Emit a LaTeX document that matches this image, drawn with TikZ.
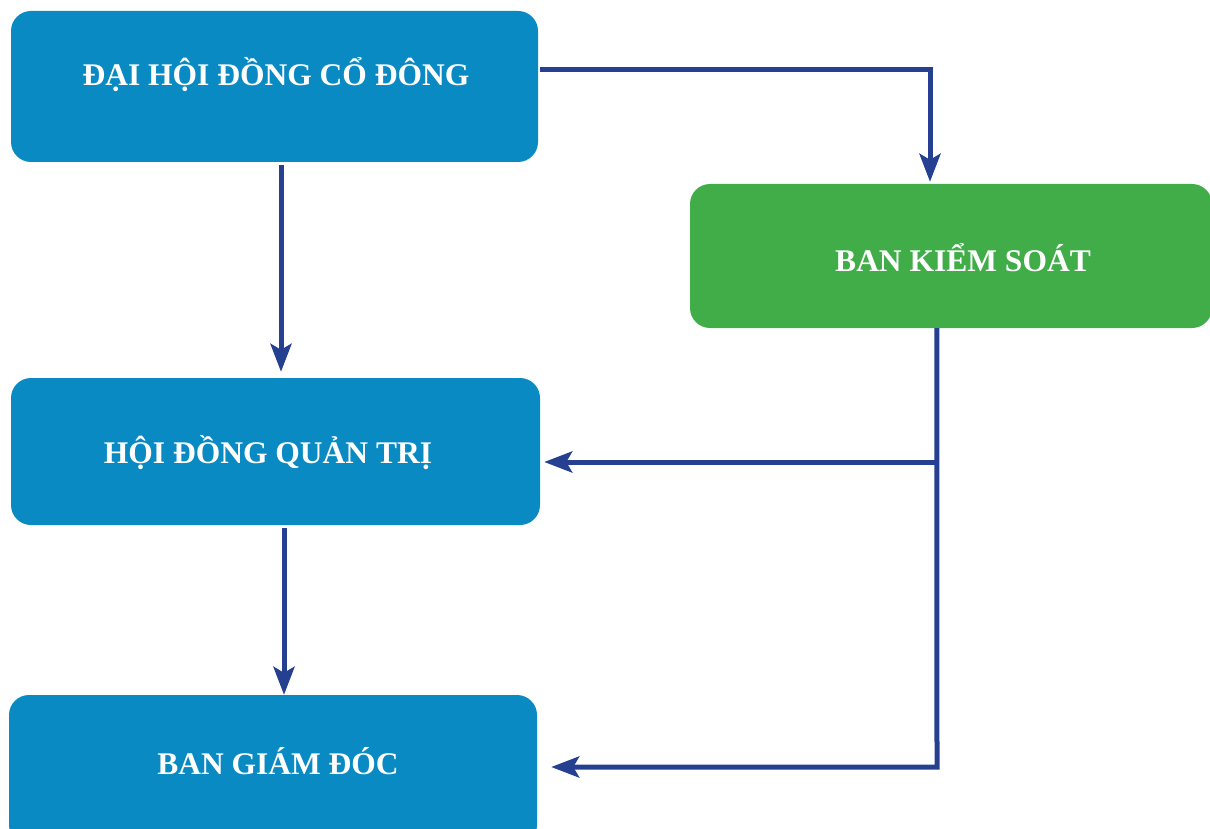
\documentclass[tikz,border=0pt]{standalone}
\usepackage{fontspec}
\setmainfont{Liberation Serif}
\usetikzlibrary{arrows.meta,calc}
\definecolor{boxblue}{HTML}{0A8AC3}
\definecolor{boxgreen}{HTML}{41AD49}
\definecolor{linkblue}{HTML}{264091}
\begin{document}
\begin{tikzpicture}[x=1pt,y=-1pt,
  box/.style={fill=boxblue,rounded corners=20pt,inner sep=0pt},
  gbox/.style={fill=boxgreen,rounded corners=20pt,inner sep=0pt},
  lbl/.style={text=white,font=\bfseries\fontsize{31.5}{34}\selectfont,inner sep=0pt},
  link/.style={draw=linkblue,line width=5pt,-{Stealth[length=28pt,width=21pt,inset=6pt]}},
  plain/.style={draw=linkblue,line width=5pt}]
\useasboundingbox (0,0) rectangle (1210,829);
\clip (0,0) rectangle (1210,829);
\fill[white] (0,0) rectangle (1210,829);
% boxes
\node[box,minimum width=527pt,minimum height=151pt] (dh) at (274.5,86.5) {};
\node[lbl] (dhl) at (276,75) {ĐẠI HỘI ĐỒNG CỔ ĐÔNG};
\node[gbox,minimum width=522pt,minimum height=144pt] (bks) at (951,256) {};
\node[lbl] (bksl) at (963,258) {BAN KIỂM SOÁT};
\node[box,minimum width=529pt,minimum height=147pt] (hd) at (275.5,451.5) {};
\node[lbl] (hdl) at (268,453) {HỘI ĐỒNG QUẢN TRỊ};
\node[box,minimum width=528pt,minimum height=150pt] (bgd) at (273,770) {};
\node[lbl] (bgdl) at (278,761) {BAN GIÁM ĐÓC};
% coordinates
\coordinate (c1) at (930,70);
\coordinate (c2) at (937,767);
\coordinate (c3) at (937,462);
\coordinate (a1) at (281,165);
\coordinate (a2) at (284,528);
% connectors
\draw[link] ($(dh.east)+(2,-16.5)$) -- (c1) -- ($(c1 |- bks.north)+(0,-2)$);
\draw[link] (a1) -- ($(a1 |- hd.north)+(0,-6)$);
\draw[link] (a2) -- ($(a2 |- bgd.north)+(0,0)$);
\draw[link] ($(bks.south west)+(247,0)$) -- (c2) -- ($(bgd.east)+(14,-3)$);
\draw[link] ($(c3)+(-2.5,0)$) -- ($(hd.east)+(4,10.5)$);
\end{tikzpicture}
\end{document}
